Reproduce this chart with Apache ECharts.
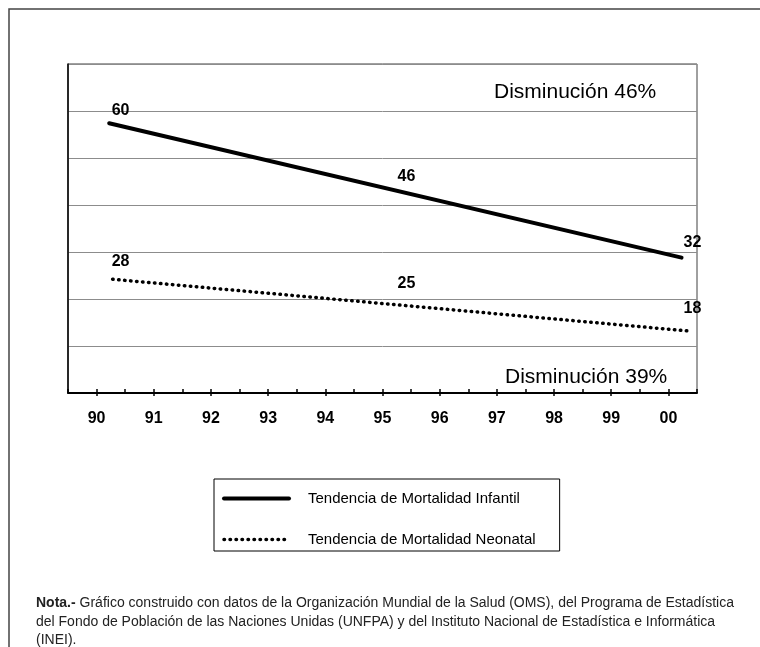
<!DOCTYPE html>
<html>
<head>
<meta charset="utf-8">
<script src="https://cdn.jsdelivr.net/npm/echarts@6/dist/echarts.min.js"></script>
<style>html,body{margin:0;padding:0;background:#fff;}#c{width:760px;height:647px;}</style>
</head>
<body>
<div id="c"></div>
<script>
// Tick labels (years)
const categories = ['90','91','92','93','94','95','96','97','98','99','00'];
// Trend lines (x in years, y in rate)
const infantilTrendX = [90.22, 100.23];
const infantilTrendY = [57.4, 28.8];
const neonatalTrendX = [90.28, 100.34];
const neonatalTrendY = [24.2, 13.2];
// Labelled values
const labelX = [90.42, 95.42, 100.42];
const infantilValues = [60, 46, 32];
const neonatalValues = [28, 25, 18];
const seriesNames = ['Tendencia de Mortalidad Infantil', 'Tendencia de Mortalidad Neonatal'];
const annotations = ['Disminución 46%', 'Disminución 39%'];
const noteLines = [
  'Gráfico construido con datos de la Organización Mundial de la Salud (OMS), del Programa de Estadística',
  'del Fondo de Población de las Naciones Unidas (UNFPA) y del Instituto Nacional de Estadística e Informática',
  '(INEI).'
];

const FONT = '"Liberation Sans", Arial, sans-serif';
const zip = (xs, ys) => xs.map((x, i) => [x, ys[i]]);

const solidStyle = { color: '#000', width: 4, cap: 'round' };
const dottedStyle = { color: '#000', width: 3.5, type: [0.5, 5.5], cap: 'round' };

const labelStyle = {
  show: true, position: 'inside', color: '#000', fontWeight: 'bold', fontSize: 16, fontFamily: FONT,
  textBorderWidth: 0, textBorderColor: 'transparent', opacity: 1,
  formatter: p => String(p.value[1])
};

const neonatalLabelData = zip(labelX, neonatalValues).map((v, i) =>
  i === 1 ? { value: v, label: { offset: [0, 8] } } : v);

const option = {
  animation: false,
  backgroundColor: '#fff',
  textStyle: { fontFamily: FONT },
  grid: { left: 68, top: 64, width: 629, height: 329, show: true, borderColor: '#404040', borderWidth: 1 },
  xAxis: [
    {
      type: 'value', min: 89.5, max: 100.5, interval: 0.5, position: 'bottom',
      axisLine: { show: true, onZero: false, lineStyle: { color: '#000', width: 2 } },
      axisTick: { show: true, inside: true, length: 4, lineStyle: { color: '#000', width: 1.5 } },
      axisLabel: { show: false }, splitLine: { show: false }
    },
    {
      type: 'category', data: categories, boundaryGap: true, position: 'bottom',
      axisLine: { show: false },
      axisTick: { show: true, alignWithLabel: true, length: 3, lineStyle: { color: '#000', width: 1.5 } },
      axisLabel: { color: '#000', fontWeight: 'bold', fontSize: 16, margin: 18, fontFamily: FONT },
      splitLine: { show: false }
    }
  ],
  yAxis: {
    type: 'value', min: 0, max: 70, interval: 10,
    axisLine: { show: true, lineStyle: { color: '#000', width: 1.5 } },
    axisTick: { show: false }, axisLabel: { show: false },
    splitLine: { lineStyle: { color: '#8c8c8c', width: 1 } }
  },
  legend: {
    orient: 'vertical', left: 214, top: 479,
    itemWidth: 65, itemHeight: 14, itemGap: 26,
    padding: [12, 24, 4, 8],
    borderColor: '#000', borderWidth: 1,
    data: [
      { name: seriesNames[0], lineStyle: solidStyle },
      { name: seriesNames[1], lineStyle: dottedStyle }
    ],
    itemStyle: { color: 'rgba(0,0,0,0)', borderColor: 'rgba(0,0,0,0)', borderWidth: 0 },
    textStyle: { fontSize: 15, color: '#000', fontFamily: FONT, padding: [0, 0, 0, 14] }
  },
  series: [
    {
      name: seriesNames[0], type: 'line', xAxisIndex: 0, symbol: 'none',
      data: zip(infantilTrendX, infantilTrendY),
      lineStyle: solidStyle, itemStyle: { color: '#000' }
    },
    {
      name: seriesNames[1], type: 'line', xAxisIndex: 0, symbol: 'none',
      data: zip(neonatalTrendX, neonatalTrendY),
      lineStyle: dottedStyle, itemStyle: { color: '#000' }
    },
    {
      name: 'lab1', type: 'scatter', xAxisIndex: 0, symbolSize: 0, itemStyle: { color: '#000' },
      data: zip(labelX, infantilValues), label: labelStyle, z: 5
    },
    {
      name: 'lab2', type: 'scatter', xAxisIndex: 0, symbolSize: 0, itemStyle: { color: '#000' },
      data: neonatalLabelData, label: labelStyle, z: 5
    }
  ],
  graphic: [
    { type: 'polyline', shape: { points: [[9, 647], [9, 9], [760, 9]] }, style: { stroke: '#444', lineWidth: 1.5, fill: null } },
    { type: 'text', left: 494, top: 82, style: { text: annotations[0], font: '21px ' + FONT, fill: '#000' } },
    { type: 'text', left: 505, top: 367, style: { text: annotations[1], font: '21px ' + FONT, fill: '#000' } },
    { type: 'text', left: 36, top: 596, style: { text: '{b|Nota.-} ' + noteLines[0], font: '14px ' + FONT, fill: '#222',
        rich: { b: { fontWeight: 'bold', fontSize: 14, fontFamily: FONT, fill: '#222' } } } },
    { type: 'text', left: 36, top: 615, style: { text: noteLines[1], font: '14px ' + FONT, fill: '#222' } },
    { type: 'text', left: 36, top: 633, style: { text: noteLines[2], font: '14px ' + FONT, fill: '#222' } }
  ]
};

const chart = echarts.init(document.getElementById('c'), null, { renderer: 'canvas' });
chart.setOption(option);
</script>
</body>
</html>
